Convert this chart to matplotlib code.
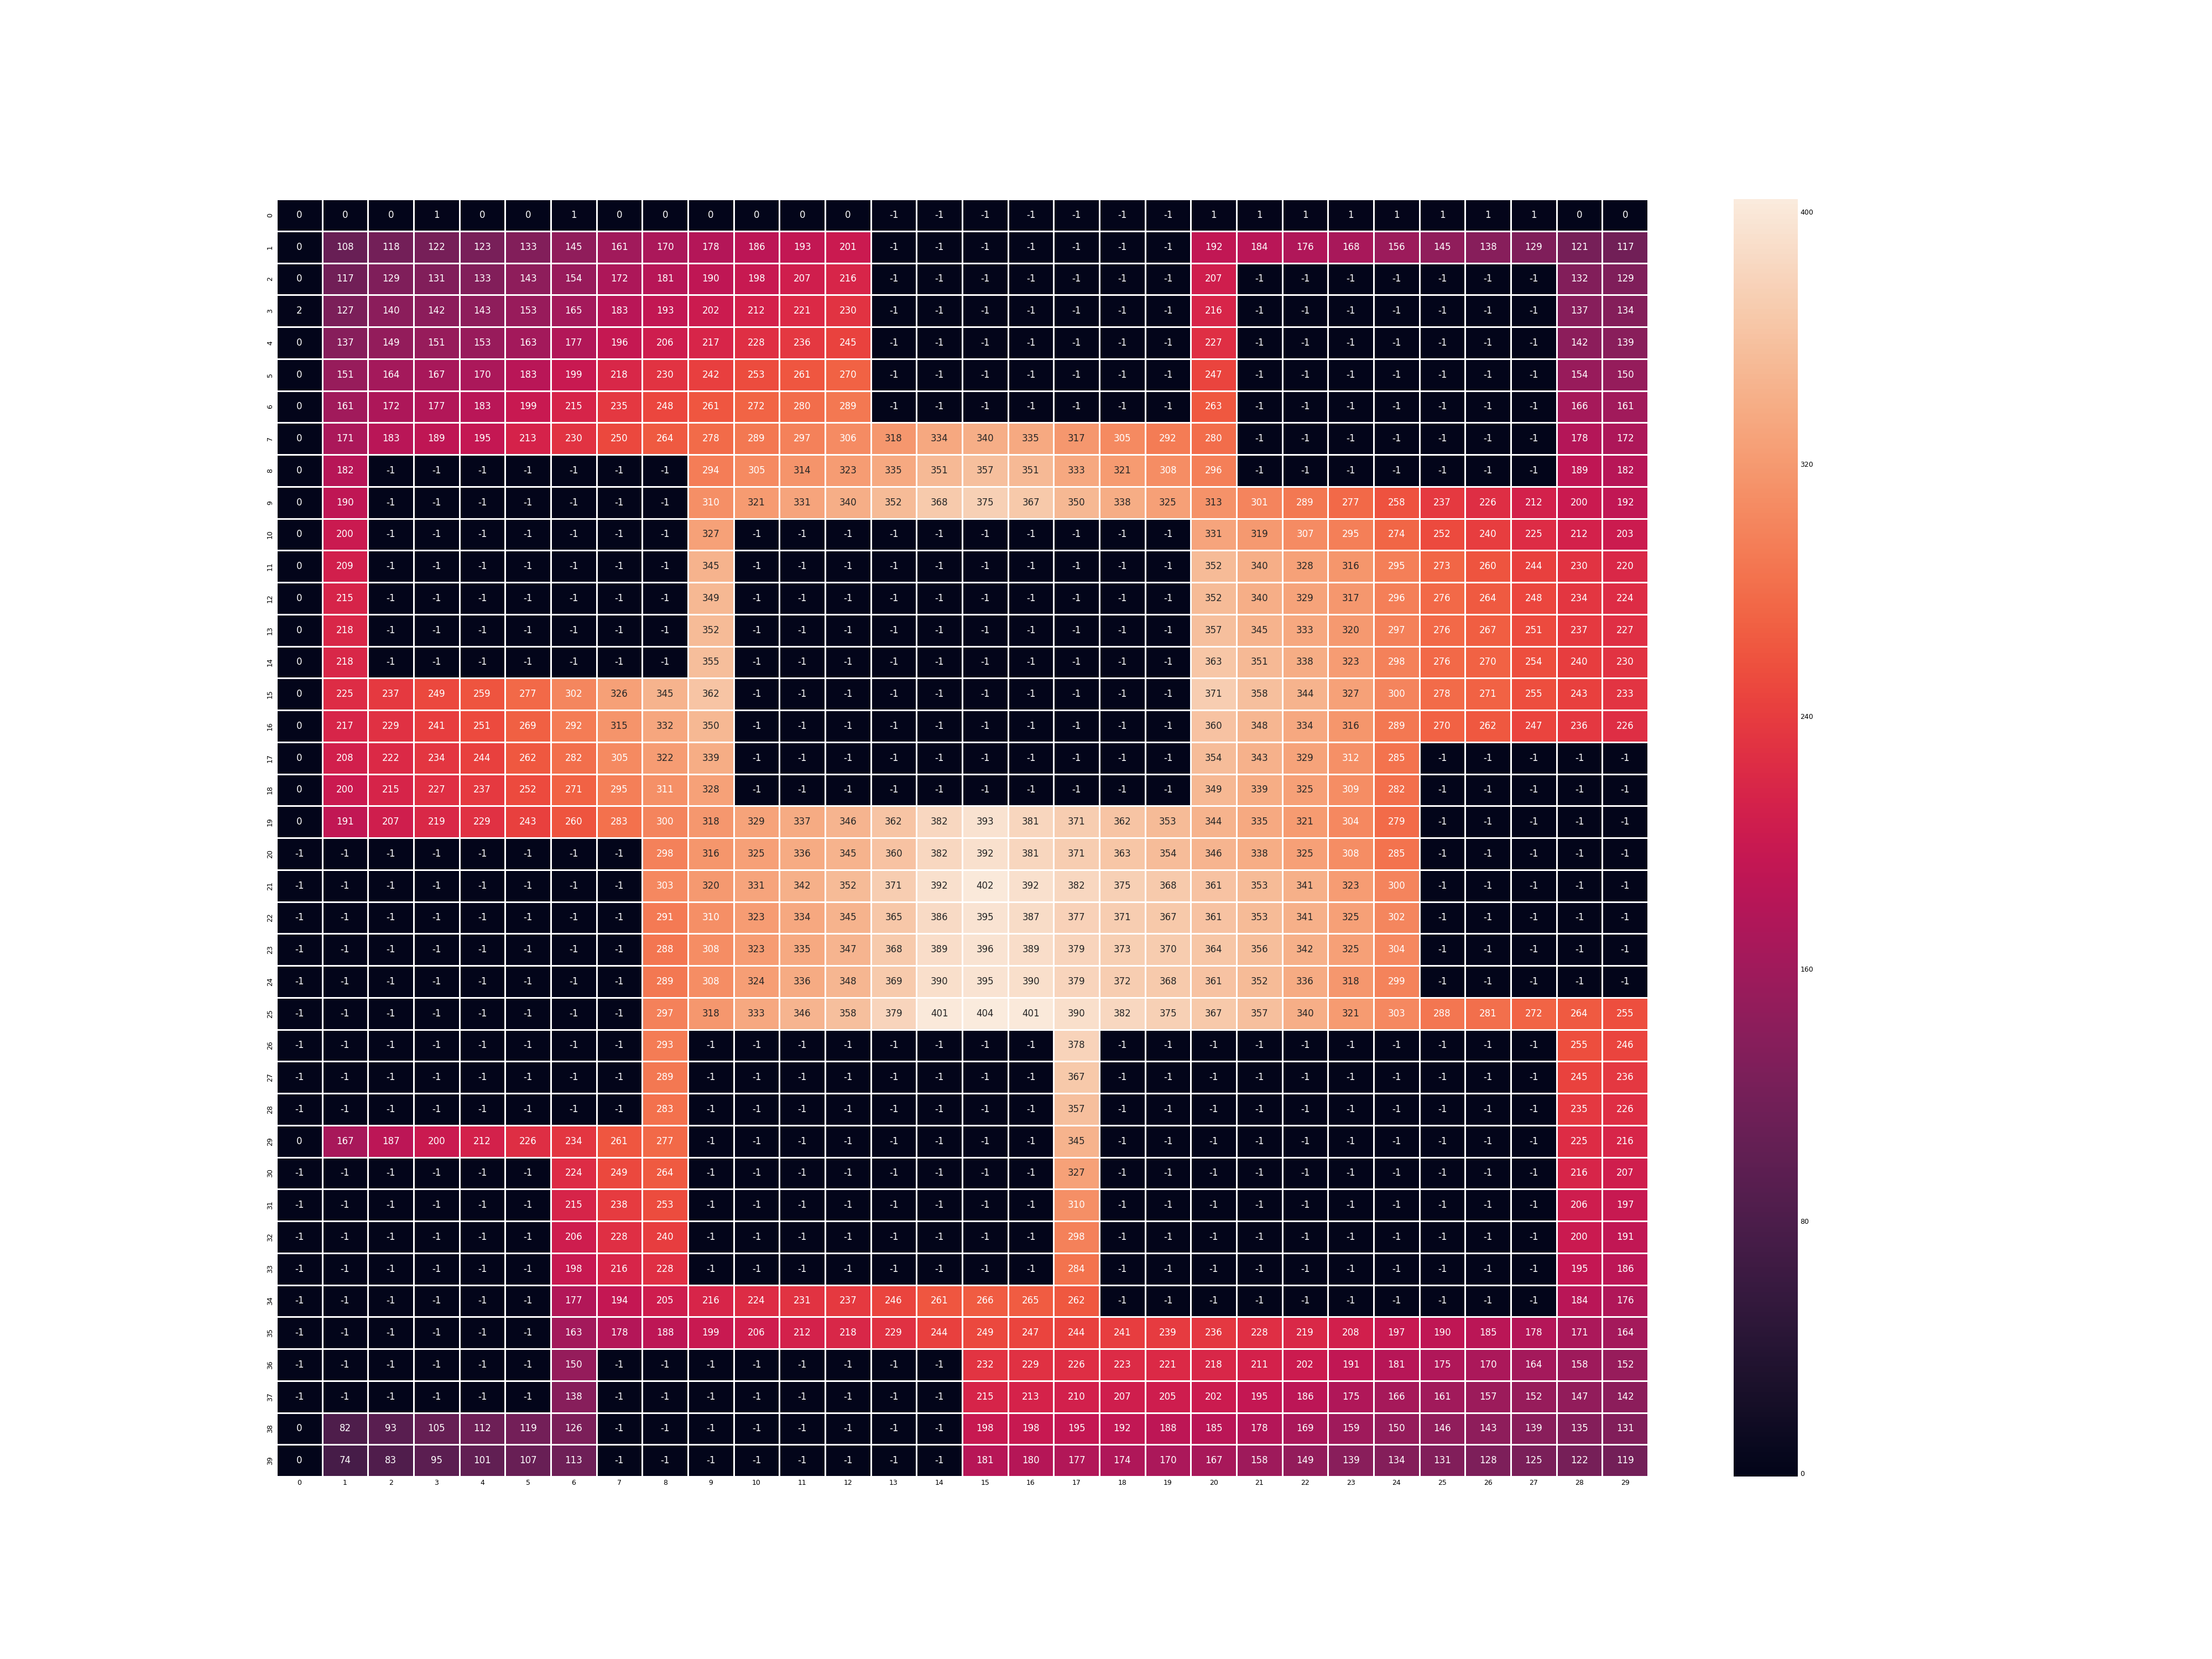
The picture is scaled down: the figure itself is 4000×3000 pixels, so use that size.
import numpy as np
import matplotlib
matplotlib.use("Agg")
import matplotlib.pyplot as plt
import seaborn as sns

# grid values, 40 rows x 30 columns (-1 = blocked cell)
grid = [
    [0, 0, 0, 1, 0, 0, 1, 0, 0, 0, 0, 0, 0, -1, -1, -1, -1, -1, -1, -1, 1, 1, 1, 1, 1, 1, 1, 1, 0, 0],
    [0, 108, 118, 122, 123, 133, 145, 161, 170, 178, 186, 193, 201, -1, -1, -1, -1, -1, -1, -1, 192, 184, 176, 168, 156, 145, 138, 129, 121, 117],
    [0, 117, 129, 131, 133, 143, 154, 172, 181, 190, 198, 207, 216, -1, -1, -1, -1, -1, -1, -1, 207, -1, -1, -1, -1, -1, -1, -1, 132, 129],
    [2, 127, 140, 142, 143, 153, 165, 183, 193, 202, 212, 221, 230, -1, -1, -1, -1, -1, -1, -1, 216, -1, -1, -1, -1, -1, -1, -1, 137, 134],
    [0, 137, 149, 151, 153, 163, 177, 196, 206, 217, 228, 236, 245, -1, -1, -1, -1, -1, -1, -1, 227, -1, -1, -1, -1, -1, -1, -1, 142, 139],
    [0, 151, 164, 167, 170, 183, 199, 218, 230, 242, 253, 261, 270, -1, -1, -1, -1, -1, -1, -1, 247, -1, -1, -1, -1, -1, -1, -1, 154, 150],
    [0, 161, 172, 177, 183, 199, 215, 235, 248, 261, 272, 280, 289, -1, -1, -1, -1, -1, -1, -1, 263, -1, -1, -1, -1, -1, -1, -1, 166, 161],
    [0, 171, 183, 189, 195, 213, 230, 250, 264, 278, 289, 297, 306, 318, 334, 340, 335, 317, 305, 292, 280, -1, -1, -1, -1, -1, -1, -1, 178, 172],
    [0, 182, -1, -1, -1, -1, -1, -1, -1, 294, 305, 314, 323, 335, 351, 357, 351, 333, 321, 308, 296, -1, -1, -1, -1, -1, -1, -1, 189, 182],
    [0, 190, -1, -1, -1, -1, -1, -1, -1, 310, 321, 331, 340, 352, 368, 375, 367, 350, 338, 325, 313, 301, 289, 277, 258, 237, 226, 212, 200, 192],
    [0, 200, -1, -1, -1, -1, -1, -1, -1, 327, -1, -1, -1, -1, -1, -1, -1, -1, -1, -1, 331, 319, 307, 295, 274, 252, 240, 225, 212, 203],
    [0, 209, -1, -1, -1, -1, -1, -1, -1, 345, -1, -1, -1, -1, -1, -1, -1, -1, -1, -1, 352, 340, 328, 316, 295, 273, 260, 244, 230, 220],
    [0, 215, -1, -1, -1, -1, -1, -1, -1, 349, -1, -1, -1, -1, -1, -1, -1, -1, -1, -1, 352, 340, 329, 317, 296, 276, 264, 248, 234, 224],
    [0, 218, -1, -1, -1, -1, -1, -1, -1, 352, -1, -1, -1, -1, -1, -1, -1, -1, -1, -1, 357, 345, 333, 320, 297, 276, 267, 251, 237, 227],
    [0, 218, -1, -1, -1, -1, -1, -1, -1, 355, -1, -1, -1, -1, -1, -1, -1, -1, -1, -1, 363, 351, 338, 323, 298, 276, 270, 254, 240, 230],
    [0, 225, 237, 249, 259, 277, 302, 326, 345, 362, -1, -1, -1, -1, -1, -1, -1, -1, -1, -1, 371, 358, 344, 327, 300, 278, 271, 255, 243, 233],
    [0, 217, 229, 241, 251, 269, 292, 315, 332, 350, -1, -1, -1, -1, -1, -1, -1, -1, -1, -1, 360, 348, 334, 316, 289, 270, 262, 247, 236, 226],
    [0, 208, 222, 234, 244, 262, 282, 305, 322, 339, -1, -1, -1, -1, -1, -1, -1, -1, -1, -1, 354, 343, 329, 312, 285, -1, -1, -1, -1, -1],
    [0, 200, 215, 227, 237, 252, 271, 295, 311, 328, -1, -1, -1, -1, -1, -1, -1, -1, -1, -1, 349, 339, 325, 309, 282, -1, -1, -1, -1, -1],
    [0, 191, 207, 219, 229, 243, 260, 283, 300, 318, 329, 337, 346, 362, 382, 393, 381, 371, 362, 353, 344, 335, 321, 304, 279, -1, -1, -1, -1, -1],
    [-1, -1, -1, -1, -1, -1, -1, -1, 298, 316, 325, 336, 345, 360, 382, 392, 381, 371, 363, 354, 346, 338, 325, 308, 285, -1, -1, -1, -1, -1],
    [-1, -1, -1, -1, -1, -1, -1, -1, 303, 320, 331, 342, 352, 371, 392, 402, 392, 382, 375, 368, 361, 353, 341, 323, 300, -1, -1, -1, -1, -1],
    [-1, -1, -1, -1, -1, -1, -1, -1, 291, 310, 323, 334, 345, 365, 386, 395, 387, 377, 371, 367, 361, 353, 341, 325, 302, -1, -1, -1, -1, -1],
    [-1, -1, -1, -1, -1, -1, -1, -1, 288, 308, 323, 335, 347, 368, 389, 396, 389, 379, 373, 370, 364, 356, 342, 325, 304, -1, -1, -1, -1, -1],
    [-1, -1, -1, -1, -1, -1, -1, -1, 289, 308, 324, 336, 348, 369, 390, 395, 390, 379, 372, 368, 361, 352, 336, 318, 299, -1, -1, -1, -1, -1],
    [-1, -1, -1, -1, -1, -1, -1, -1, 297, 318, 333, 346, 358, 379, 401, 404, 401, 390, 382, 375, 367, 357, 340, 321, 303, 288, 281, 272, 264, 255],
    [-1, -1, -1, -1, -1, -1, -1, -1, 293, -1, -1, -1, -1, -1, -1, -1, -1, 378, -1, -1, -1, -1, -1, -1, -1, -1, -1, -1, 255, 246],
    [-1, -1, -1, -1, -1, -1, -1, -1, 289, -1, -1, -1, -1, -1, -1, -1, -1, 367, -1, -1, -1, -1, -1, -1, -1, -1, -1, -1, 245, 236],
    [-1, -1, -1, -1, -1, -1, -1, -1, 283, -1, -1, -1, -1, -1, -1, -1, -1, 357, -1, -1, -1, -1, -1, -1, -1, -1, -1, -1, 235, 226],
    [0, 167, 187, 200, 212, 226, 234, 261, 277, -1, -1, -1, -1, -1, -1, -1, -1, 345, -1, -1, -1, -1, -1, -1, -1, -1, -1, -1, 225, 216],
    [-1, -1, -1, -1, -1, -1, 224, 249, 264, -1, -1, -1, -1, -1, -1, -1, -1, 327, -1, -1, -1, -1, -1, -1, -1, -1, -1, -1, 216, 207],
    [-1, -1, -1, -1, -1, -1, 215, 238, 253, -1, -1, -1, -1, -1, -1, -1, -1, 310, -1, -1, -1, -1, -1, -1, -1, -1, -1, -1, 206, 197],
    [-1, -1, -1, -1, -1, -1, 206, 228, 240, -1, -1, -1, -1, -1, -1, -1, -1, 298, -1, -1, -1, -1, -1, -1, -1, -1, -1, -1, 200, 191],
    [-1, -1, -1, -1, -1, -1, 198, 216, 228, -1, -1, -1, -1, -1, -1, -1, -1, 284, -1, -1, -1, -1, -1, -1, -1, -1, -1, -1, 195, 186],
    [-1, -1, -1, -1, -1, -1, 177, 194, 205, 216, 224, 231, 237, 246, 261, 266, 265, 262, -1, -1, -1, -1, -1, -1, -1, -1, -1, -1, 184, 176],
    [-1, -1, -1, -1, -1, -1, 163, 178, 188, 199, 206, 212, 218, 229, 244, 249, 247, 244, 241, 239, 236, 228, 219, 208, 197, 190, 185, 178, 171, 164],
    [-1, -1, -1, -1, -1, -1, 150, -1, -1, -1, -1, -1, -1, -1, -1, 232, 229, 226, 223, 221, 218, 211, 202, 191, 181, 175, 170, 164, 158, 152],
    [-1, -1, -1, -1, -1, -1, 138, -1, -1, -1, -1, -1, -1, -1, -1, 215, 213, 210, 207, 205, 202, 195, 186, 175, 166, 161, 157, 152, 147, 142],
    [0, 82, 93, 105, 112, 119, 126, -1, -1, -1, -1, -1, -1, -1, -1, 198, 198, 195, 192, 188, 185, 178, 169, 159, 150, 146, 143, 139, 135, 131],
    [0, 74, 83, 95, 101, 107, 113, -1, -1, -1, -1, -1, -1, -1, -1, 181, 180, 177, 174, 170, 167, 158, 149, 139, 134, 131, 128, 125, 122, 119],
]

data = np.array(grid)

fig, ax = plt.subplots(figsize=(40, 30), dpi=100)
sns.heatmap(data, annot=True, fmt="d", linewidths=1.0, linecolor="white",
            annot_kws={"size": 12}, ax=ax)

ax.tick_params(length=0, labelsize=9)
plt.setp(ax.get_yticklabels(), rotation=90, va="center")
plt.setp(ax.get_xticklabels(), rotation=0)

cbar = ax.collections[0].colorbar
cbar.set_ticks([0, 80, 160, 240, 320, 400])
cbar.ax.tick_params(length=0, labelsize=9)
cbar.outline.set_visible(False)

fig.savefig("out.png", dpi=100)
